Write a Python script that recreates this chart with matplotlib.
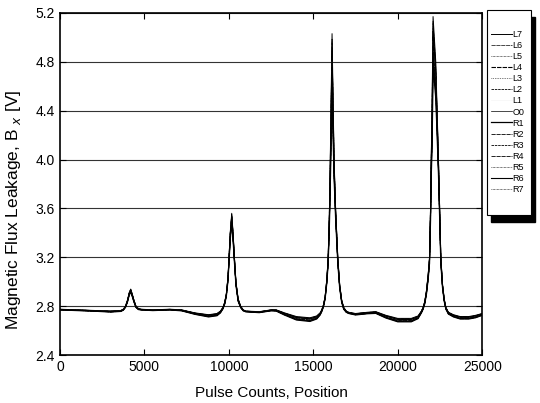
import matplotlib
matplotlib.use('Agg')
import matplotlib.pyplot as plt
from matplotlib.patches import Rectangle
import numpy as np

plt.rcParams['font.family'] = ['Liberation Sans', 'DejaVu Sans']

# common profile (pulse counts, volts)
pos = [0, 1000, 2000, 3000, 3600, 3750, 3880, 4000, 4100, 4190, 4280, 4380, 4500, 4650,
       4800, 5500, 6500, 7200, 8000, 8800, 9300, 9500, 9650, 9750, 9850, 9950, 10010,
       10080, 10170, 10250, 10330, 10420, 10550, 10700, 10850, 11000, 11800, 12500,
       12800, 13300, 14000, 14800, 15200, 15400, 15500, 15600, 15700, 15800, 15880,
       15950, 16000, 16050, 16110, 16170, 16230, 16320, 16450, 16560, 16680, 16800,
       16950, 17100, 17500, 18200, 18700, 19300, 20000, 20800, 21200, 21400, 21500,
       21600, 21700, 21800, 21880, 21940, 21980, 22030, 22060, 22090, 22250, 22330,
       22410, 22480, 22550, 22650, 22750, 22850, 23000, 23300, 23700, 24200, 24600,
       25000]
bx_top = [2.775, 2.77, 2.765, 2.76, 2.765, 2.775, 2.80, 2.85, 2.91, 2.94, 2.90, 2.85, 2.80, 2.78,
          2.775, 2.77, 2.775, 2.77, 2.745, 2.73, 2.74, 2.76, 2.79, 2.83, 2.90, 3.04, 3.2,
          3.4, 3.56, 3.4, 3.2, 3.0, 2.86, 2.80, 2.77, 2.76, 2.755, 2.77,
          2.77, 2.745, 2.715, 2.705, 2.72, 2.745, 2.77, 2.81, 2.88, 3.02, 3.2,
          3.55, 3.95, 4.45, 5.03, 4.5, 4.0, 3.6, 3.2, 2.98, 2.85, 2.79,
          2.76, 2.75, 2.74, 2.75, 2.755, 2.725, 2.70, 2.70, 2.72, 2.76, 2.79,
          2.84, 2.93, 3.06, 3.2, 3.6, 4.0, 4.4, 4.8, 5.17, 4.8, 4.4,
          4.0, 3.6, 3.2, 2.98, 2.86, 2.79, 2.75, 2.73, 2.715, 2.715, 2.725,
          2.74]
# how far the lowest curve sits below the top one at each position
spread = [0.006, 0.006, 0.006, 0.008, 0.008, 0.008, 0.01, 0.015, 0.02, 0.025, 0.02, 0.015, 0.01, 0.008,
          0.006, 0.006, 0.006, 0.008, 0.012, 0.018, 0.018, 0.015, 0.012, 0.015, 0.02, 0.03, 0.04,
          0.06, 0.08, 0.06, 0.04, 0.03, 0.02, 0.012, 0.008, 0.006, 0.008, 0.008,
          0.01, 0.018, 0.028, 0.03, 0.025, 0.018, 0.015, 0.015, 0.02, 0.03, 0.05,
          0.1, 0.2, 0.35, 0.45, 0.3, 0.15, 0.08, 0.05, 0.03, 0.02, 0.015,
          0.01, 0.01, 0.012, 0.012, 0.014, 0.022, 0.028, 0.028, 0.022, 0.015, 0.015,
          0.02, 0.03, 0.04, 0.05, 0.1, 0.15, 0.3, 0.4, 0.4, 0.3, 0.2,
          0.12, 0.08, 0.05, 0.03, 0.02, 0.015, 0.015, 0.018, 0.02, 0.02, 0.02,
          0.015]

labels = ['L7', 'L6', 'L5', 'L4', 'L3', 'L2', 'L1', 'O0',
          'R1', 'R2', 'R3', 'R4', 'R5', 'R6', 'R7']
depth = [0.0, 0.1, 0.25, 0.4, 0.55, 0.7, 0.5, 0.85,
         1.0, 0.9, 0.75, 0.6, 0.45, 0.3, 0.15]
styles = ['-', (0, (6, 1)), (0, (1, 1)), (0, (4, 1)), (0, (1, 1.5)), (0, (3, 1)), '-', '-',
          '-', (0, (5, 1)), (0, (3, 1)), (0, (5, 1)), (0, (1, 1)), '-', (0, (1, 1))]
widths = [0.7, 0.5, 0.5, 0.8, 0.5, 0.6, 0.5, 0.5,
          0.9, 0.6, 0.6, 0.6, 0.5, 0.8, 0.5]
colors = ['black'] * 6 + ['#f6f6f6'] + ['black'] * 8

pos = np.array(pos)
bx_top = np.array(bx_top)
spread = np.array(spread)

fig = plt.figure(figsize=(5.4, 4.03), dpi=100)
ax = fig.add_axes([0.111, 0.119, 0.782, 0.849])

for lab, d, ls, lw, c in zip(labels, depth, styles, widths, colors):
    ax.plot(pos, bx_top - spread * d, linestyle=ls, linewidth=lw, color=c, label=lab)

ax.set_xlim(0, 25000)
ax.set_ylim(2.4, 5.2)
ax.set_xticks([0, 5000, 10000, 15000, 20000, 25000])
ax.set_yticks([2.4, 2.8, 3.2, 3.6, 4.0, 4.4, 4.8, 5.2])
ax.set_yticklabels(['2.4', '2.8', '3.2', '3.6', '4.0', '4.4', '4.8', '5.2'])
ax.tick_params(direction='in', top=True, right=True, labelsize=10, length=4)
ax.yaxis.grid(True, color='#333333', linewidth=0.8)
for s in ax.spines.values():
    s.set_linewidth(1.2)

ax.set_xlabel('Pulse Counts, Position', fontsize=11, labelpad=9)
ax.set_ylabel('Magnetic Flux Leakage, B $_{x}$ [V]', fontsize=12.5)
ax.yaxis.set_label_coords(-0.088, 0.424)

# legend box with a solid black drop shadow, drawn in figure pixels
W, H = 540, 403
fig.patches.append(Rectangle((491 / W, 1 - 222 / H), 44 / W, 205 / H,
                             transform=fig.transFigure, facecolor='black',
                             edgecolor='black', zorder=1))
fig.patches.append(Rectangle((487 / W, 1 - 215 / H), 44 / W, 205 / H,
                             transform=fig.transFigure, facecolor='white',
                             edgecolor='black', linewidth=0.8, zorder=2))
leg = fig.legend(loc='upper left', bbox_to_anchor=(491 / W, 1 - 30 / H), fontsize=6.5,
                 frameon=False, handlelength=2.3, handletextpad=0.1,
                 labelspacing=0.23, borderpad=0, borderaxespad=0)
leg.set_zorder(3)

plt.savefig('out.png', dpi=100)
